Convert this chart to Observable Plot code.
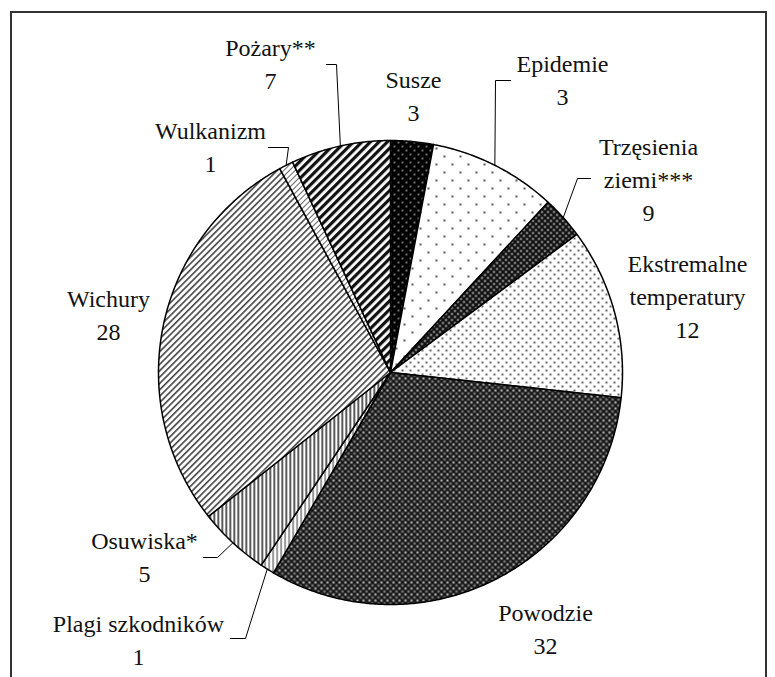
<!DOCTYPE html>
<html><head><meta charset="utf-8">
<script src="https://cdn.jsdelivr.net/npm/d3@7"></script>
<script src="https://cdn.jsdelivr.net/npm/@observablehq/plot@0.6"></script>
<style>
html,body{margin:0;padding:0;background:#fff;}
#border-box{position:absolute;left:10px;top:11px;width:757px;height:666px;border:2px solid #333;border-bottom:none;box-sizing:border-box;}
#piefig{position:absolute;left:0;top:0;}
</style></head><body>
<svg width="0" height="0" style="position:absolute">
<defs>
  <pattern id="p0" width="8" height="8" patternUnits="userSpaceOnUse">
    <rect width="8" height="8" fill="#000"/>
    <circle cx="2" cy="2" r="0.8" fill="#fff"/><circle cx="6" cy="6" r="0.8" fill="#fff"/>
  </pattern>
  <pattern id="p1" width="16" height="16" patternUnits="userSpaceOnUse">
    <rect width="16" height="16" fill="#fff"/>
    <circle cx="4" cy="4" r="1.1" fill="#333"/><circle cx="12" cy="12" r="1.1" fill="#333"/>
  </pattern>
  <pattern id="p2" width="6" height="6" patternUnits="userSpaceOnUse">
    <rect width="6" height="6" fill="#111"/>
    <circle cx="1.5" cy="1.5" r="1" fill="#ddd"/><circle cx="4.5" cy="4.5" r="1" fill="#ddd"/>
  </pattern>
  <pattern id="p3" width="8" height="8" patternUnits="userSpaceOnUse">
    <rect width="8" height="8" fill="#fff"/>
    <circle cx="2" cy="2" r="1.1" fill="#444"/><circle cx="6" cy="6" r="1.1" fill="#444"/>
  </pattern>
  <pattern id="p4" width="6" height="6" patternUnits="userSpaceOnUse">
    <rect width="6" height="6" fill="#7a7a7a"/>
    <path d="M0,0L6,6M6,0L0,6" stroke="#111" stroke-width="1.7"/>
    <circle cx="3" cy="0" r="0.8" fill="#eee"/><circle cx="3" cy="6" r="0.8" fill="#eee"/>
  </pattern>
  <pattern id="p5" width="4" height="4" patternUnits="userSpaceOnUse">
    <rect width="4" height="4" fill="#fff"/>
    <rect x="0" y="0" width="1.2" height="4" fill="#555"/>
  </pattern>
  <pattern id="p6" width="4" height="4" patternUnits="userSpaceOnUse">
    <rect width="4" height="4" fill="#fff"/>
    <rect x="1" y="0" width="1.5" height="4" fill="#222"/>
  </pattern>
  <pattern id="p7" width="4.5" height="4.5" patternUnits="userSpaceOnUse" patternTransform="rotate(45)">
    <rect width="4.5" height="4.5" fill="#fff"/>
    <rect x="0" y="0" width="1.6" height="4.5" fill="#444"/>
  </pattern>
  <pattern id="p8" width="4" height="4" patternUnits="userSpaceOnUse" patternTransform="rotate(45)">
    <rect width="4" height="4" fill="#fff"/>
    <rect x="0" y="0" width="1" height="4" fill="#666"/>
  </pattern>
  <pattern id="p9" width="6" height="6" patternUnits="userSpaceOnUse" patternTransform="rotate(45)">
    <rect width="6" height="6" fill="#fff"/>
    <rect x="0" y="0" width="3.2" height="6" fill="#111"/>
  </pattern>
</defs></svg>
<div id="border-box"></div>
<div id="piefig"></div>
<script>
// ---- data ----
const categories = ["Susze", "Epidemie", "Trzęsienia ziemi***", "Ekstremalne temperatury", "Powodzie",
  "Plagi szkodników", "Osuwiska*", "Wichury", "Wulkanizm", "Pożary**"];
// slice sizes as drawn in the picture
const sliceValues = [3, 9, 3, 12, 32, 1, 5, 28, 1, 7];
// label texts as printed in the picture
const labelNames = ["Susze", "Epidemie", "Trzęsienia\nziemi***", "Ekstremalne\ntemperatury", "Powodzie",
  "Plagi szkodników", "Osuwiska*", "Wichury", "Wulkanizm", "Pożary**"];
const labelValues = [3, 3, 9, 12, 32, 1, 5, 28, 1, 7];

// ---- layout (pixels) ----
const W = 775, H = 677, CX = 390, CY = 372, R = 232, LINE = 33;
const FONT = "Liberation Serif";
const patterns = ["p0","p1","p2","p3","p4","p5","p6","p7","p8","p9"];
const labelPos = [[413, 96.5], [562, 80], [648, 179.5], [687, 297], [545, 629],
  [138, 640], [144, 557], [108, 315], [210, 147], [270, 64]];
const leaders = [null, [[510, 80], [495, 80]], [[590, 178], [577, 178]], null, null,
  [[230, 638], [245, 638]], [[203, 557], [217, 557]], null, [[268, 147], [288, 147]], [[326, 64], [336, 64]]];

const ux = px => (px - CX) / R;
const uy = py => (CY - py) / R;

const arcs = d3.pie().sort(null).value(d => d)(sliceValues);

const slicePts = [];
arcs.forEach((a, i) => {
  const n = Math.max(2, Math.ceil((a.endAngle - a.startAngle) / (Math.PI / 360)));
  slicePts.push({name: categories[i], fill: `url(#${patterns[i]})`, x: 0, y: 0});
  for (let k = 0; k <= n; k++) {
    const t = a.startAngle + (a.endAngle - a.startAngle) * k / n;
    slicePts.push({name: categories[i], fill: `url(#${patterns[i]})`, x: Math.sin(t), y: Math.cos(t)});
  }
});

const labelLines = [];
categories.forEach((c, i) => {
  const lines = (labelNames[i] + "\n" + labelValues[i]).split("\n");
  lines.forEach((t, j) => {
    const py = labelPos[i][1] + (j - (lines.length - 1) / 2) * LINE;
    labelLines.push({text: t, x: ux(labelPos[i][0]), y: uy(py)});
  });
});

const leaderPts = [];
arcs.forEach((a, i) => {
  const L = leaders[i];
  if (!L) return;
  const mid = (a.startAngle + a.endAngle) / 2;
  leaderPts.push({name: categories[i], x: ux(L[0][0]), y: uy(L[0][1])});
  leaderPts.push({name: categories[i], x: ux(L[1][0]), y: uy(L[1][1])});
  leaderPts.push({name: categories[i], x: Math.sin(mid), y: Math.cos(mid)});
});

const chart = Plot.plot({
  width: W, height: H,
  margin: 0,
  x: {domain: [ux(0), ux(W)], range: [0, W], axis: null},
  y: {domain: [uy(H), uy(0)], range: [H, 0], axis: null},
  color: {type: "identity"},
  marks: [
    Plot.line(slicePts, {x: "x", y: "y", z: "name", fill: "fill", stroke: "#000", strokeWidth: 1.5,
      curve: "linear-closed", strokeLinejoin: "round"}),
    Plot.line(leaderPts, {x: "x", y: "y", z: "name", stroke: "#000", strokeWidth: 1}),
    Plot.text(labelLines, {x: "x", y: "y", text: "text", fontSize: 24, fontFamily: FONT,
      textAnchor: "middle", fill: "#111"})
  ]
});
chart.style.background = "transparent";
document.getElementById("piefig").appendChild(chart);
</script>
</body></html>
